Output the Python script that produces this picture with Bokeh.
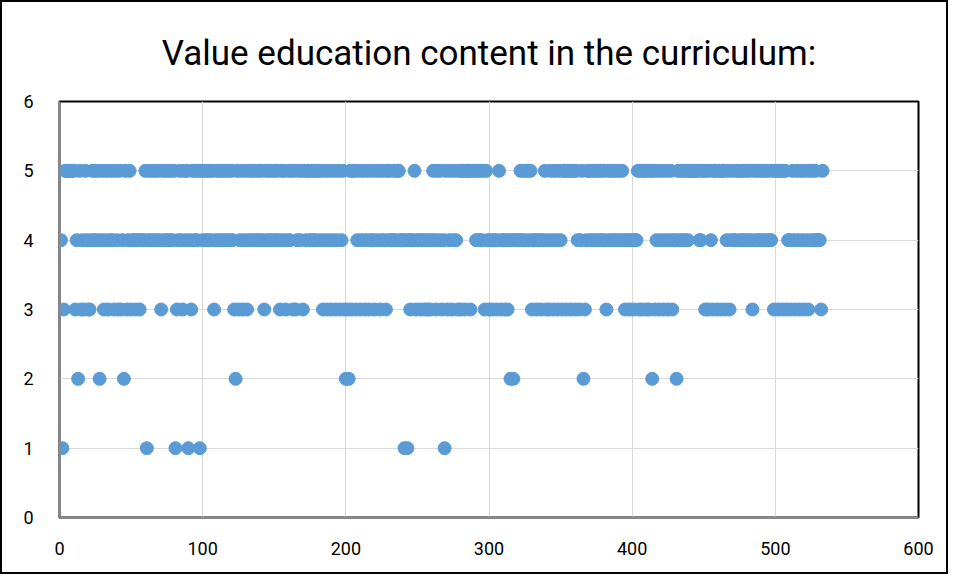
from bokeh.plotting import figure
from bokeh.models import Range1d, FixedTicker, ColumnDataSource
from bokeh.embed import file_html
from bokeh.resources import INLINE

title_text = "Value education content in the curriculum:"
x_ticks = [0, 100, 200, 300, 400, 500, 600]
y_ticks = [0, 1, 2, 3, 4, 5, 6]

# score given by each respondent (1..533), read row by row, 50 per line
score_rows = [
    "41355555553425343543345454524534534543543534253453",
    "44344344451454545454354545454513454354514354545154",
    "54545453454545454545432534534534545454545435454545",
    "45435453454535345453545545454554534534534534534532",
    "32535534534534534543545345435454454554441414344534",
    "43443434345435453415345345435355355535554545453543",
    "43443453443434242444454545545344344344534354354354",
    "35535535535434523455454545454543545454545454344344",
    "34453535535352534534534534534425454545455555554455",
    "35354355355355345345445545454545435454545454544535",
    "535535534435435435435435454544435",
]
scores = [int(c) for row in score_rows for c in row]
respondent = list(range(1, len(scores) + 1))

source = ColumnDataSource(data=dict(x=respondent, y=scores))

FONT = "Roboto"

p = figure(width=948, height=574, output_backend="svg", toolbar_location=None,
           x_range=Range1d(0, 600), y_range=Range1d(0, 6),
           min_border_left=57, min_border_right=32,
           min_border_top=99, min_border_bottom=59,
           background_fill_color="white", border_fill_color="white")

p.title.text = title_text
p.title.align = "center"
p.title.text_font = FONT
p.title.text_font_size = "35px"
p.title.text_font_style = "normal"
p.title.text_color = "black"
p.title.standoff = 56

p.scatter("x", "y", source=source, size=13, marker="circle",
          fill_color="#5B9BD5", line_color="#5B9BD5")

for ax, ticks in ((p.xaxis, x_ticks), (p.yaxis, y_ticks)):
    ax.ticker = FixedTicker(ticks=ticks)
    ax.axis_line_color = "#898989"
    ax.axis_line_width = 2
    ax.major_tick_line_color = None
    ax.minor_tick_line_color = None
    ax.major_label_text_font = FONT
    ax.major_label_text_font_size = "18px"
    ax.major_label_text_color = "black"

p.yaxis.major_label_standoff = 20
p.xaxis.major_label_standoff = 18

p.xgrid.ticker = FixedTicker(ticks=x_ticks)
p.ygrid.ticker = FixedTicker(ticks=y_ticks)
p.grid.grid_line_color = "#D9D9D9"
p.grid.grid_line_width = 1

p.outline_line_color = "black"
p.outline_line_width = 2
p.outline_line_alpha = 1

p.styles = {"border": "2px solid black"}

open("out.html", "w").write(file_html(p, INLINE))
